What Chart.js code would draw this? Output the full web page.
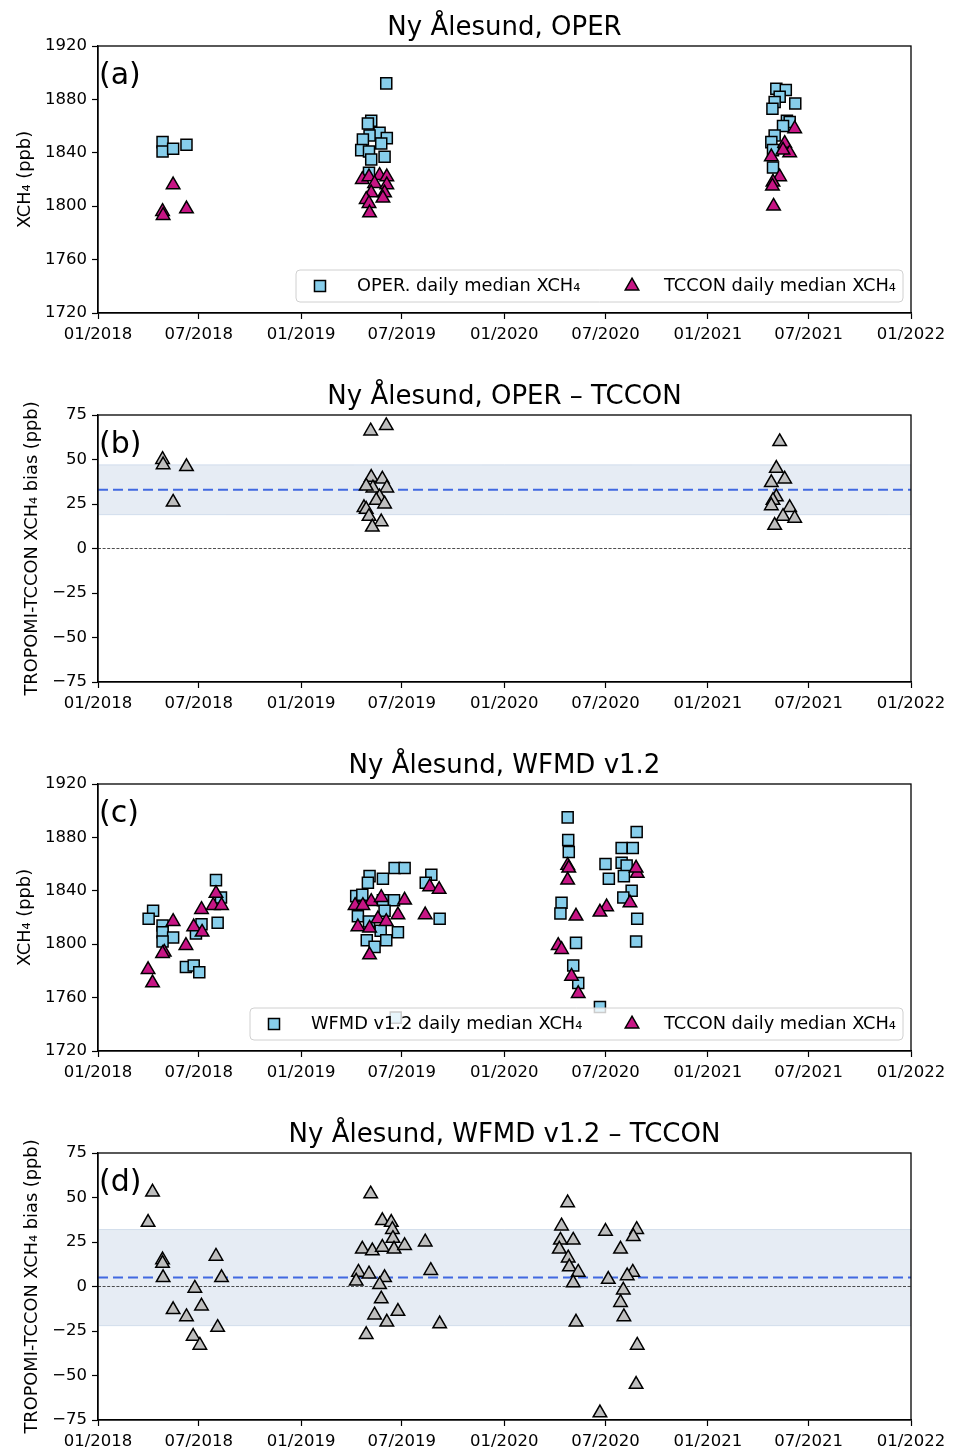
<!DOCTYPE html>
<html>
<head>
<meta charset="utf-8">
<script src="https://cdn.jsdelivr.net/npm/chart.js@4.4.0/dist/chart.umd.min.js"></script>
<style>
  body { margin: 0; background: #fff; }
  canvas.panel { position: absolute; left: 0; }
</style>
</head>
<body>
<canvas id="panelA" class="panel" width="956" height="369" style="top:0px"></canvas>
<canvas id="panelB" class="panel" width="956" height="369" style="top:369px"></canvas>
<canvas id="panelC" class="panel" width="956" height="369" style="top:738px"></canvas>
<canvas id="panelD" class="panel" width="956" height="343" style="top:1107px"></canvas>
<script>
// ---- time axis ----
const xTickDates  = ['2018-01-01', '2018-07-01', '2019-01-01', '2019-07-01', '2020-01-01',
                     '2020-07-01', '2021-01-01', '2021-07-01', '2022-01-01'];
const xTickLabels = ['01/2018', '07/2018', '01/2019', '07/2019', '01/2020',
                     '07/2020', '01/2021', '07/2021', '01/2022'];

// ---- (a) OPER vs TCCON daily medians, ppb ----
const operDates = [
  '2018-04-27', '2018-04-27', '2018-05-16', '2018-06-09',
  '2019-06-03', '2019-05-07', '2019-05-01', '2019-05-22', '2019-05-04', '2019-04-22', '2019-06-04',
  '2019-05-25', '2019-04-19', '2019-05-03', '2019-05-31', '2019-05-07', '2019-05-03',
  '2021-05-04', '2021-05-21', '2021-05-10', '2021-05-01', '2021-04-27', '2021-06-07', '2021-05-23',
  '2021-05-28', '2021-05-16', '2021-05-01', '2021-04-25', '2021-04-28', '2021-04-28'];
const operXch4 = [
  1848, 1841, 1843, 1846,
  1892, 1864, 1862, 1855, 1853, 1850, 1851, 1847, 1842, 1841, 1837, 1835, 1825,
  1888, 1887, 1882, 1878, 1873, 1877, 1864, 1863, 1860, 1853, 1848, 1842, 1829];

const tcconOperDates = [
  '2018-04-27', '2018-04-28', '2018-05-16', '2018-06-09',
  '2019-04-21', '2019-05-03', '2019-05-22', '2019-06-04', '2019-05-13', '2019-06-04', '2019-05-07',
  '2019-05-31', '2019-04-28', '2019-05-28', '2019-05-03', '2019-05-04',
  '2021-06-06', '2021-05-19', '2021-05-28', '2021-05-16', '2021-04-25', '2021-05-10', '2021-04-28',
  '2021-04-27', '2021-04-29'];
const tcconOperXch4 = [
  1796, 1793, 1816, 1798,
  1820, 1822, 1823, 1822, 1817, 1816, 1810, 1810, 1805, 1806, 1802, 1795,
  1858, 1847, 1840, 1842, 1837, 1822, 1818, 1815, 1800];

// ---- (b) OPER - TCCON bias, ppb ----
const biasOperDates = [
  '2018-04-27', '2018-04-28', '2018-06-09', '2018-05-16',
  '2019-05-06', '2019-06-03', '2019-05-07', '2019-05-27', '2019-05-10', '2019-06-04', '2019-04-28',
  '2019-05-22', '2019-05-16', '2019-05-31', '2019-04-24', '2019-04-28', '2019-05-03', '2019-05-25',
  '2019-05-09',
  '2021-05-10', '2021-05-04', '2021-05-19', '2021-04-25', '2021-05-04', '2021-04-28', '2021-04-25',
  '2021-05-28', '2021-05-16', '2021-06-06', '2021-05-01'];
const biasOperVals = [
  50, 47, 46, 26,
  66, 69, 40, 39, 34, 34, 35, 29, 27, 25, 23, 22, 18, 15, 12,
  60, 45, 39, 37, 29, 27, 24, 23, 18, 17, 13];
const biasOperMean = 33;
const biasOperStd = 14;

// ---- (c) WFMD v1.2 vs TCCON daily medians, ppb ----
const wfmdDates = [
  '2018-08-01', '2018-08-10', '2018-08-04', '2018-07-06', '2018-06-26', '2018-04-10', '2018-04-02',
  '2018-04-27', '2018-04-27', '2018-05-16', '2018-04-27', '2018-06-08', '2018-06-22', '2018-07-02',
  '2019-06-18', '2019-07-06', '2019-05-04', '2019-05-28', '2019-05-01', '2019-08-23', '2019-08-13',
  '2019-04-10', '2019-04-21', '2019-05-28', '2019-06-17', '2019-05-31', '2019-04-13', '2019-05-03',
  '2019-09-07', '2019-05-24', '2019-06-24', '2019-04-29', '2019-06-03', '2019-05-13', '2019-06-20',
  '2020-04-24', '2020-04-25', '2020-04-26', '2020-08-26', '2020-07-30', '2020-08-19', '2020-07-01',
  '2020-07-30', '2020-08-08', '2020-08-03', '2020-07-07', '2020-08-17', '2020-08-02', '2020-08-27',
  '2020-08-25', '2020-04-13', '2020-04-11', '2020-05-09', '2020-05-04', '2020-05-13', '2020-06-21'];
const wfmdXch4 = [
  1848, 1835, 1816, 1815, 1808, 1825, 1819, 1814, 1809, 1805, 1802, 1783, 1784, 1779,
  1857, 1857, 1851, 1849, 1846, 1852, 1846, 1836, 1837, 1833, 1833, 1825, 1821, 1817,
  1819, 1810, 1809, 1803, 1803, 1798, 1745,
  1895, 1878, 1869, 1884, 1872, 1872, 1860, 1861, 1859, 1851, 1849, 1840, 1835, 1819,
  1802, 1831, 1823, 1801, 1784, 1771, 1753];

const tcconWfmdDates = [
  '2018-04-01', '2018-04-09', '2018-05-16', '2018-04-30', '2018-04-27', '2018-06-08', '2018-07-06',
  '2018-06-22', '2018-07-07', '2018-08-01', '2018-07-27', '2018-08-11',
  '2019-05-07', '2019-05-25', '2019-07-06', '2019-04-08', '2019-04-22', '2019-06-24', '2019-05-19',
  '2019-08-20', '2019-09-06', '2019-08-12', '2019-04-13', '2019-05-04', '2019-06-03', '2019-05-04',
  '2020-04-24', '2020-04-26', '2020-04-24', '2020-08-27', '2020-08-25', '2020-08-14', '2020-07-03',
  '2020-06-21', '2020-05-09', '2020-04-07', '2020-04-13', '2020-05-01', '2020-05-13'];
const tcconWfmdXch4 = [
  1781, 1771, 1817, 1794, 1793, 1799, 1826, 1813, 1809, 1838, 1829, 1829,
  1832, 1835, 1833, 1829, 1829, 1822, 1819, 1843, 1841, 1822, 1813, 1812, 1817, 1792,
  1859, 1857, 1848, 1853, 1857, 1831, 1828, 1824, 1821, 1799, 1796, 1776, 1763];

// ---- (d) WFMD v1.2 - TCCON bias, ppb ----
const biasWfmdDates = [
  '2018-04-09', '2018-04-01', '2018-04-27', '2018-04-27', '2018-04-28', '2018-06-24', '2018-05-16',
  '2018-07-06', '2018-06-09', '2018-08-01', '2018-08-11', '2018-08-04', '2018-06-21', '2018-07-03',
  '2019-05-06', '2019-05-27', '2019-06-12', '2019-06-14', '2019-06-15', '2019-04-21', '2019-05-09',
  '2019-05-27', '2019-06-17', '2019-07-06', '2019-08-12', '2019-04-14', '2019-05-03', '2019-08-22',
  '2019-05-31', '2019-04-10', '2019-05-22', '2019-05-25', '2019-05-13', '2019-06-24', '2019-06-04',
  '2019-09-07', '2019-04-28',
  '2020-04-24', '2020-04-13', '2020-04-11', '2020-04-09', '2020-05-04', '2020-07-01', '2020-08-26',
  '2020-08-20', '2020-07-28', '2020-04-25', '2020-04-27', '2020-05-13', '2020-05-04', '2020-07-06',
  '2020-08-19', '2020-08-09', '2020-08-02', '2020-07-28', '2020-08-03', '2020-05-09', '2020-08-27',
  '2020-08-25', '2020-06-21'];
const biasWfmdVals = [
  53, 36, 15, 13, 5, -1, -13, -11, -17, 17, 5, -23, -28, -33,
  52, 37, 36, 32, 27, 21, 20, 22, 21, 23, 25, 8, 7, 9, 5, 3, 1, -7, -16, -14, -20, -21, -27,
  47, 34, 26, 21, 26, 31, 32, 28, 21, 16, 11, 8, 2, 4, 8, 6, -2, -9, -17, -20, -33, -55, -71];
const biasWfmdMean = 5;
const biasWfmdStd = 27;

// ---- helpers ----
const DAY0 = Date.parse('2018-01-01');
const toDay = s => (Date.parse(s) - DAY0) / 864e5;
const toPoints = (dates, vals) => dates.map((d, i) => ({ x: toDay(d), y: vals[i] }));
const xTickDays = xTickDates.map(toDay);
const xEnd = xTickDays[xTickDays.length - 1];

const SKY = '#87CEEB';
const MAGENTA = '#C71585';
const GREY = '#BEBEBE';
const MARK_R = 7.8;

Chart.defaults.font.family = '"DejaVu Sans", sans-serif';
Chart.defaults.color = '#000';

function drawMarker(ctx, style, x, y, r, fill) {
  ctx.beginPath();
  if (style === 'rect') {
    const h = r * Math.SQRT1_2;
    ctx.rect(x - h, y - h, 2 * h, 2 * h);
  } else {
    const a = 2 * Math.PI / 3;
    ctx.moveTo(x, y - r);
    ctx.lineTo(x + Math.sin(a) * r, y + r / 2);
    ctx.lineTo(x - Math.sin(a) * r, y + r / 2);
    ctx.closePath();
  }
  ctx.fillStyle = fill;
  ctx.fill();
  ctx.lineWidth = 1.5;
  ctx.strokeStyle = '#000';
  ctx.stroke();
}

// axes title, full box frame, panel letter and in-axes legend
const decor = {
  id: 'decor',
  afterDraw(chart, args, opts) {
    const { ctx, chartArea: ca } = chart;
    ctx.save();
    ctx.lineWidth = 1.3;
    ctx.strokeStyle = '#000';
    ctx.strokeRect(ca.left, ca.top, ca.right - ca.left, ca.bottom - ca.top);

    ctx.fillStyle = '#000';
    ctx.font = '26px "DejaVu Sans"';
    ctx.textAlign = 'center';
    ctx.textBaseline = 'alphabetic';
    ctx.fillText(opts.title, (ca.left + ca.right) / 2, ca.top - 11);

    ctx.font = '30px "DejaVu Sans"';
    ctx.textAlign = 'left';
    ctx.fillText(opts.letter, ca.left + 1, ca.top + 38);

    if (opts.legend) {
      const L = opts.legend;
      const r = 4;
      ctx.beginPath();
      ctx.moveTo(L.x1 + r, L.y1);
      ctx.arcTo(L.x2, L.y1, L.x2, L.y2, r);
      ctx.arcTo(L.x2, L.y2, L.x1, L.y2, r);
      ctx.arcTo(L.x1, L.y2, L.x1, L.y1, r);
      ctx.arcTo(L.x1, L.y1, L.x2, L.y1, r);
      ctx.closePath();
      ctx.fillStyle = 'rgba(255,255,255,0.8)';
      ctx.fill();
      ctx.lineWidth = 1;
      ctx.strokeStyle = '#d0d0d0';
      ctx.stroke();
      const my = (L.y1 + L.y2) / 2;
      L.items.forEach(it => {
        drawMarker(ctx, it.style, it.mx, my, MARK_R, it.color);
        ctx.font = '17.8px "DejaVu Sans"';
        ctx.fillStyle = '#000';
        ctx.textBaseline = 'middle';
        ctx.fillText(it.label, it.tx, my);
      });
    }
    ctx.restore();
  }
};

function scatterSet(points, style, color) {
  return {
    type: 'scatter', data: points, order: 0,
    pointStyle: style, pointRadius: MARK_R, pointHoverRadius: MARK_R,
    pointBackgroundColor: color, pointBorderColor: '#000', pointBorderWidth: 1.5,
    clip: 8
  };
}

function hLine(y, color, width, dash, order, fill) {
  return {
    type: 'line', data: [{ x: 0, y }, { x: xEnd, y }], order,
    borderColor: color, borderWidth: width, borderDash: dash,
    pointRadius: 0, fill: fill === undefined ? false : fill,
    backgroundColor: 'rgba(176,196,222,0.32)'
  };
}

function biasSets(mean, std) {
  return [
    hLine(mean + std, 'rgba(176,196,222,0.45)', 1, [], 4, '+1'),
    hLine(mean - std, 'rgba(176,196,222,0.45)', 1, [], 5),
    hLine(mean, '#4169E1', 2, [10, 5], 2),
    hLine(0, '#222', 0.8, [3, 1.6], 3)
  ];
}

function makePanel(id, title, yTitle, yTitlePad, yMin, yMax, yStep, datasets, decorOpts) {
  const canvas = document.getElementById(id);
  const bottomSpace = canvas.height - 313;
  const fmt = v => String(v).replace('-', '\u2212');
  decorOpts.title = title;
  return new Chart(canvas, {
    type: 'scatter',
    data: { datasets },
    plugins: [decor],
    options: {
      responsive: false,
      animation: false,
      devicePixelRatio: 1,
      layout: { padding: { left: 0, right: 45, top: 46, bottom: 0 } },
      plugins: {
        legend: { display: false },
        tooltip: { enabled: false },
        title: { display: false },
        decor: decorOpts
      },
      scales: {
        x: {
          type: 'linear', min: 0, max: xEnd,
          afterBuildTicks: s => { s.ticks = xTickDays.map(v => ({ value: v })); },
          afterFit: s => { s.height = bottomSpace; },
          ticks: {
            autoSkip: false, maxRotation: 0, padding: 6, color: '#000',
            font: { size: 16.5 },
            callback: v => xTickLabels[xTickDays.indexOf(v)]
          },
          grid: { drawOnChartArea: false, tickLength: 6, tickColor: '#000', tickWidth: 1.2 },
          border: { color: '#000', width: 1.3 }
        },
        y: {
          min: yMin, max: yMax,
          afterFit: s => { s.width = 98; },
          ticks: { stepSize: yStep, padding: 5, color: '#000', font: { size: 16.5 }, callback: fmt },
          grid: { drawOnChartArea: false, tickLength: 6, tickColor: '#000', tickWidth: 1.2 },
          border: { color: '#000', width: 1.3 },
          title: {
            display: true, text: yTitle, color: '#000',
            font: { size: 17.8 }, padding: { top: yTitlePad, bottom: 0 }
          }
        }
      }
    }
  });
}

makePanel('panelA', 'Ny \u00C5lesund, OPER', 'XCH\u2084 (ppb)', 15, 1720, 1920, 40, [
  scatterSet(toPoints(tcconOperDates, tcconOperXch4), 'triangle', MAGENTA),
  scatterSet(toPoints(operDates, operXch4), 'rect', SKY)
], {
  letter: '(a)',
  legend: { x1: 296, y1: 270, x2: 903, y2: 302, items: [
    { style: 'rect', color: SKY, mx: 320, tx: 357, label: 'OPER. daily median XCH\u2084' },
    { style: 'triangle', color: MAGENTA, mx: 632, tx: 664, label: 'TCCON daily median XCH\u2084' }
  ] }
});

makePanel('panelB', 'Ny \u00C5lesund, OPER \u2013 TCCON', 'TROPOMI-TCCON XCH\u2084 bias (ppb)', 22, -75, 75, 25, [
  scatterSet(toPoints(biasOperDates, biasOperVals), 'triangle', GREY),
  ...biasSets(biasOperMean, biasOperStd)
], { letter: '(b)' });

makePanel('panelC', 'Ny \u00C5lesund, WFMD v1.2', 'XCH\u2084 (ppb)', 15, 1720, 1920, 40, [
  scatterSet(toPoints(tcconWfmdDates, tcconWfmdXch4), 'triangle', MAGENTA),
  scatterSet(toPoints(wfmdDates, wfmdXch4), 'rect', SKY)
], {
  letter: '(c)',
  legend: { x1: 250, y1: 270, x2: 903, y2: 302, items: [
    { style: 'rect', color: SKY, mx: 274, tx: 311, label: 'WFMD v1.2 daily median XCH\u2084' },
    { style: 'triangle', color: MAGENTA, mx: 632, tx: 664, label: 'TCCON daily median XCH\u2084' }
  ] }
});

makePanel('panelD', 'Ny \u00C5lesund, WFMD v1.2 \u2013 TCCON', 'TROPOMI-TCCON XCH\u2084 bias (ppb)', 22, -75, 75, 25, [
  scatterSet(toPoints(biasWfmdDates, biasWfmdVals), 'triangle', GREY),
  ...biasSets(biasWfmdMean, biasWfmdStd)
], { letter: '(d)' });
</script>
</body>
</html>
